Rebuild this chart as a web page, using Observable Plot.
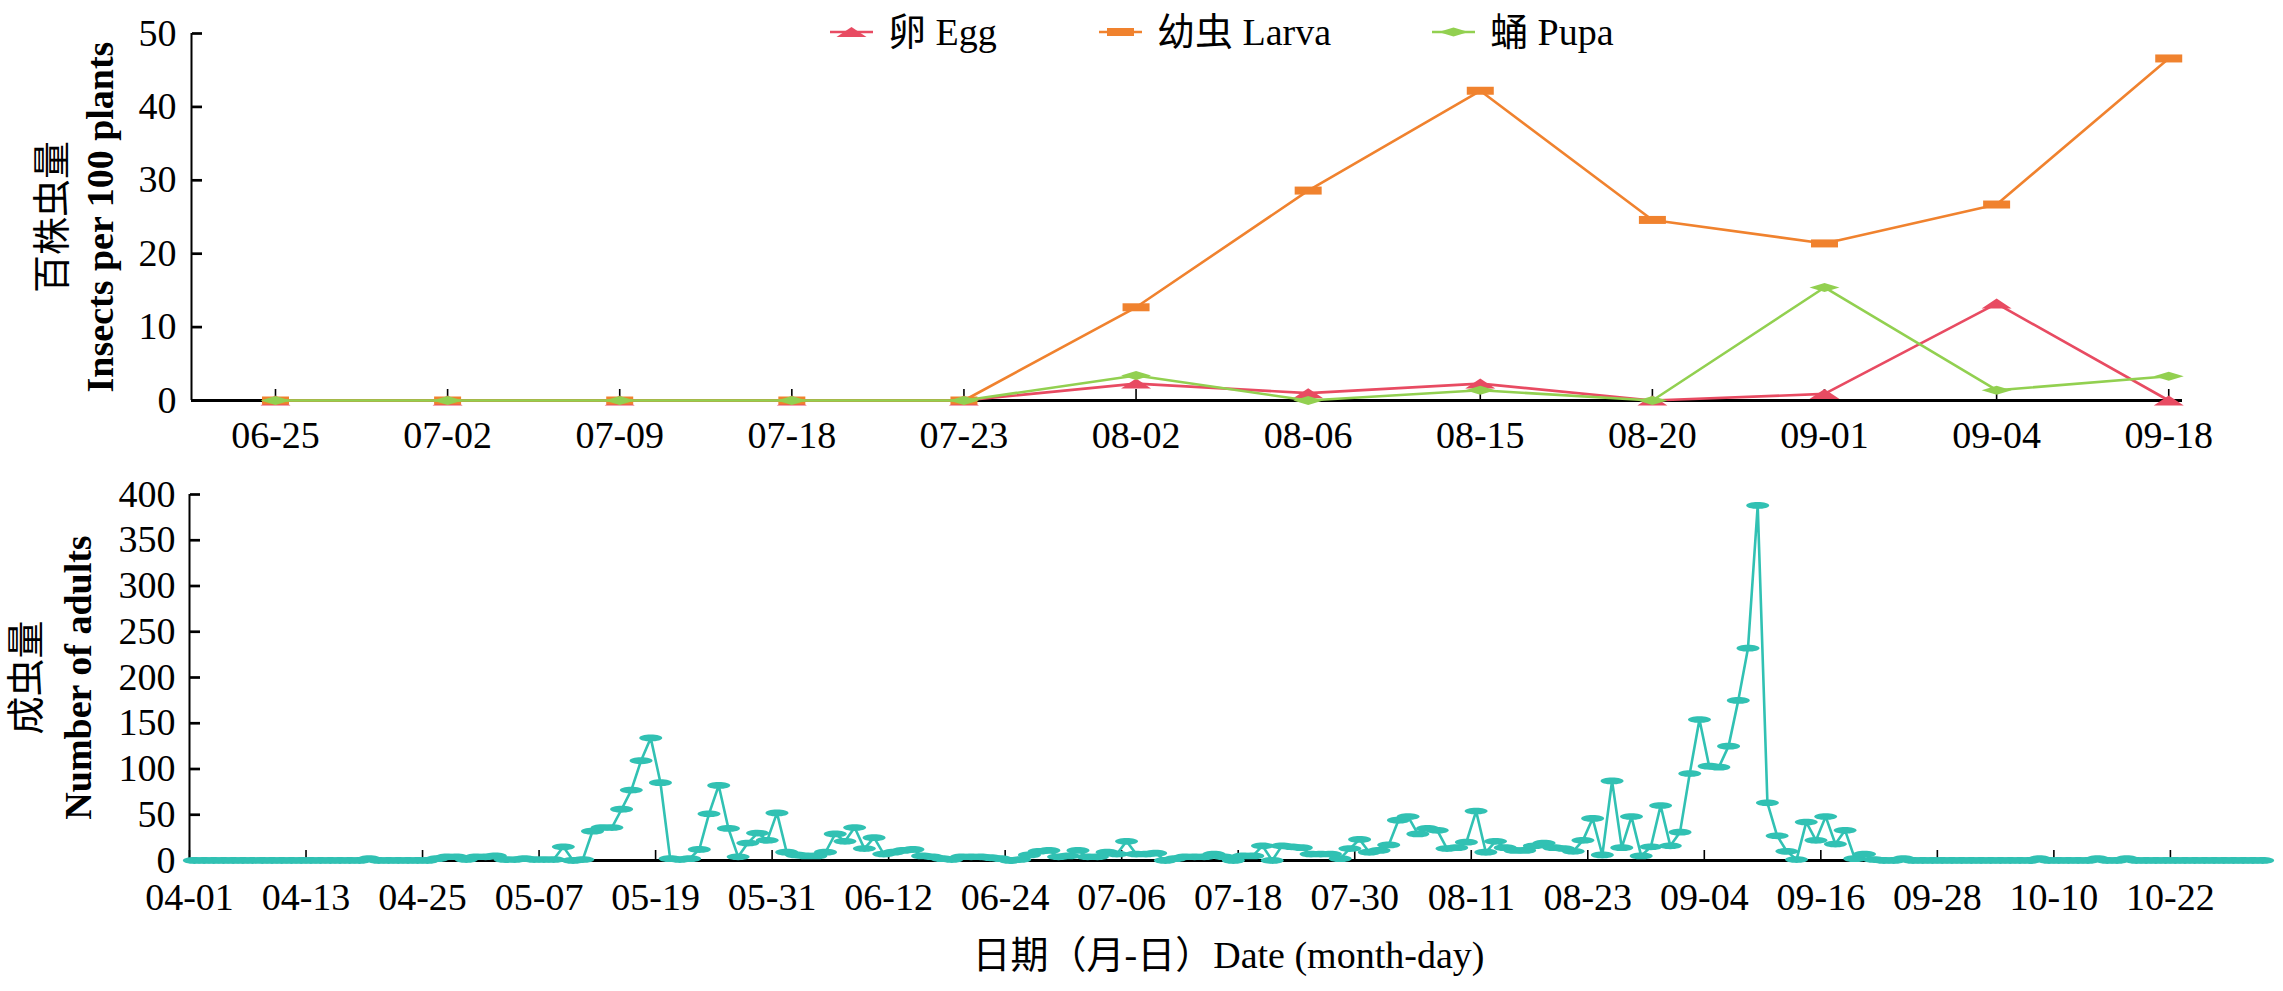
<!DOCTYPE html>
<html>
<head>
<meta charset="utf-8">
<script src="https://cdn.jsdelivr.net/npm/d3@7"></script>
<script src="https://cdn.jsdelivr.net/npm/@observablehq/plot@0.6"></script>
<style>
  body { margin: 0; background: #fff; }
  #wrap { position: relative; width: 2283px; height: 991px; overflow: hidden; background: #fff;
          font-family: "Liberation Serif", "Noto Sans CJK SC", serif; color: #000; }
  #top { position: absolute; left: 0; top: 0; }
  #bottom { position: absolute; left: 0; top: 470px; }
  .lg { position: absolute; top: 12px; height: 40px; display: flex; align-items: center; font-size: 38px; line-height: 40px; white-space: nowrap; }
  .lg svg { margin-right: 15px; }
</style>
</head>
<body>
<div id="wrap">
  <div id="top"></div>
  <div id="bottom"></div>
  <div id="legend"></div>
</div>
<script>
// ---------- data: upper panel (survey dates) ----------
const surveyDates = ["06-25","07-02","07-09","07-18","07-23","08-02","08-06","08-15","08-20","09-01","09-04","09-18"];
const eggValues   = [0, 0, 0, 0, 0, 2.3, 1.0, 2.3, 0, 0.9, 13.2, 0];
const larvaValues = [0, 0, 0, 0, 0, 12.7, 28.6, 42.2, 24.6, 21.4, 26.7, 46.6];
const pupaValues  = [0, 0, 0, 0, 0, 3.4, 0, 1.4, 0, 15.4, 1.4, 3.3];
const stageNames  = ["卵 Egg", "幼虫 Larva", "蛹 Pupa"];
const stageColors = ["#E84B62", "#F0822E", "#92D050"];
const topYTicks   = [0, 10, 20, 30, 40, 50];

// ---------- data: lower panel (daily adults, 04-01 .. 10-31) ----------
const adultTickLabels = ["04-01","04-13","04-25","05-07","05-19","05-31","06-12","06-24","07-06",
                         "07-18","07-30","08-11","08-23","09-04","09-16","09-28","10-10","10-22"];
const adultCounts = [
  0,0,0,0,0,0,0,0,0,0,
  0,0,0,0,0,0,0,0,2,0,
  0,0,0,0,0,2,4,4,1,4,
  4,5,1,1,2,1,1,1,15,0,
  1,32,36,36,56,77,109,134,85,2,
  1,2,12,51,82,35,4,19,30,22,
  52,9,6,5,5,9,29,21,36,13,
  25,7,9,11,12,5,4,2,1,4,
  4,4,3,2,0,1,6,10,11,4,
  5,11,4,4,9,7,21,7,7,8,
  0,2,4,4,4,7,4,0,5,5,
  16,0,16,15,14,7,7,7,2,13,
  23,9,11,17,44,48,29,35,33,13,
  14,20,54,9,21,14,11,11,16,19,
  14,13,10,22,46,6,87,14,48,5,
  15,60,16,31,95,154,103,102,125,175,
  232,388,63,27,10,1,42,22,48,18,
  33,2,7,1,0,0,2,0,0,0,
  0,0,0,0,0,0,0,0,0,0,
  2,0,0,0,0,0,2,0,0,2,
  0,0,0,0,0,0,0,0,0,0,
  0,0,0,0
];
const adultColor = "#31C1B3";
const bottomYTicks = [0, 50, 100, 150, 200, 250, 300, 350, 400];

const topYTitleCN = "百株虫量";
const topYTitleEN = "Insects per 100 plants";
const bottomYTitleCN = "成虫量";
const bottomYTitleEN = "Number of adults";
const xTitle = "日期（月-日）Date (month-day)";

// ---------- helpers ----------
const FONT = '"Liberation Serif", "Noto Sans CJK SC", serif';
function flatSymbol(kind, w, h) {
  const a = w / 2, b = h / 2;
  return {
    draw(ctx) {
      if (kind === "triangle") {
        ctx.moveTo(0, -b); ctx.lineTo(a, b); ctx.lineTo(-a, b); ctx.closePath();
      } else if (kind === "rect") {
        ctx.moveTo(-a, -b); ctx.lineTo(a, -b); ctx.lineTo(a, b); ctx.lineTo(-a, b); ctx.closePath();
      } else if (kind === "diamond") {
        ctx.moveTo(0, -b); ctx.lineTo(a, 0); ctx.lineTo(0, b); ctx.lineTo(-a, 0); ctx.closePath();
      } else {
        const k = 0.5523;
        ctx.moveTo(a, 0);
        ctx.bezierCurveTo(a, k * b, k * a, b, 0, b);
        ctx.bezierCurveTo(-k * a, b, -a, k * b, -a, 0);
        ctx.bezierCurveTo(-a, -k * b, -k * a, -b, 0, -b);
        ctx.bezierCurveTo(k * a, -b, a, -k * b, a, 0);
        ctx.closePath();
      }
    }
  };
}
const stageSymbols = [flatSymbol("triangle", 30, 10), flatSymbol("rect", 27, 8), flatSymbol("diamond", 30, 9)];
const stageValues = [eggValues, larvaValues, pupaValues];

function yTitleMarks(cn, en, dxCN, dxEN) {
  return [
    Plot.text([cn], {text: d => d, frameAnchor: "left", rotate: -90, dx: dxCN,
      textAnchor: "middle", lineAnchor: "middle", fontSize: 38}),
    Plot.text([en], {text: d => d, frameAnchor: "left", rotate: -90, dx: dxEN,
      textAnchor: "middle", lineAnchor: "middle", fontSize: 38, fontWeight: "bold"})
  ];
}

// ---------- upper chart ----------
const topIdx = surveyDates.map((_, i) => i);
const topXDomain = [-0.488, surveyDates.length - 1 + 0.08];
const topMarks = [
  Plot.ruleX([topXDomain[0]], {strokeWidth: 2}),
  Plot.axisY(topYTicks, {tickSize: 0, tickPadding: 15, label: null}),
  Plot.axisY(topYTicks, {anchor: "right", frameAnchor: "left", tickSize: 10, strokeWidth: 2.7, fill: "none", label: null}),
  Plot.axisX(topIdx, {tickSize: 0, tickPadding: 21, tickFormat: i => surveyDates[i], label: null}),
  Plot.axisX(topIdx, {anchor: "top", frameAnchor: "bottom", tickSize: 12, strokeWidth: 1.6, fill: "none", label: null}),
  Plot.ruleY([0], {strokeWidth: 3.2})
];
stageValues.forEach((vals, s) => {
  topMarks.push(Plot.line(vals, {x: (d, i) => i, y: d => d, stroke: stageColors[s], strokeWidth: 2.6}));
  topMarks.push(Plot.dot(vals, {x: (d, i) => i, y: d => d, symbol: stageSymbols[s], fill: stageColors[s], stroke: "none", r: 5}));
});
topMarks.push(...yTitleMarks(topYTitleCN, topYTitleEN, -139, -91));

const topPlot = Plot.plot({
  width: 2283, height: 470,
  marginLeft: 191, marginRight: 101, marginTop: 33, marginBottom: 70,
  style: {fontFamily: FONT, fontSize: "38px", color: "#000", background: "transparent", overflow: "visible"},
  x: {type: "linear", domain: topXDomain},
  y: {type: "linear", domain: [0, 50]},
  marks: topMarks
});
document.getElementById("top").appendChild(topPlot);

// ---------- lower chart ----------
const parseMD = s => Date.UTC(2001, +s.slice(0, 2) - 1, +s.slice(3, 5));
const startMs = parseMD(adultTickLabels[0]);
const tickBoundary = adultTickLabels.map(s => Math.round((parseMD(s) - startMs) / 864e5) - 0.5);
const labelAt = new Map(tickBoundary.map((p, i) => [p, adultTickLabels[i]]));
const bottomXDomain = [-0.5, adultCounts.length - 0.5];

const bottomPlot = Plot.plot({
  width: 2283, height: 521,
  marginLeft: 189, marginRight: 16, marginTop: 24, marginBottom: 131,
  style: {fontFamily: FONT, fontSize: "38px", color: "#000", background: "transparent", overflow: "visible"},
  x: {type: "linear", domain: bottomXDomain},
  y: {type: "linear", domain: [0, 400]},
  marks: [
    Plot.ruleX([bottomXDomain[0]], {strokeWidth: 2}),
    Plot.axisY(bottomYTicks, {tickSize: 0, tickPadding: 14, label: null}),
    Plot.axisY(bottomYTicks, {anchor: "right", frameAnchor: "left", tickSize: 10, strokeWidth: 2.7, fill: "none", label: null}),
    Plot.axisX(tickBoundary, {tickSize: 0, tickPadding: 23, tickFormat: d => labelAt.get(d), label: null}),
    Plot.axisX(tickBoundary, {anchor: "top", frameAnchor: "bottom", tickSize: 11, strokeWidth: 1.6, fill: "none", label: null}),
    Plot.ruleY([0], {strokeWidth: 3.2}),
    Plot.line(adultCounts, {x: (d, i) => i, y: d => d, stroke: adultColor, strokeWidth: 2.6}),
    Plot.dot(adultCounts, {x: (d, i) => i, y: d => d, symbol: flatSymbol("ellipse", 23, 6.8), fill: adultColor, stroke: "none", r: 5}),
    ...yTitleMarks(bottomYTitleCN, bottomYTitleEN, -163, -111),
    Plot.text([xTitle], {text: d => d, frameAnchor: "bottom", dy: 95, textAnchor: "middle", lineAnchor: "middle", fontSize: 38})
  ]
});
document.getElementById("bottom").appendChild(bottomPlot);

// ---------- legend ----------
const legendLeft = [830, 1099, 1432];
const legendShapes = ["triangle", "rect", "diamond"];
const legendSizes = [[30, 10], [27, 8], [30, 9]];
const legend = document.getElementById("legend");
stageNames.forEach((name, s) => {
  const item = document.createElement("div");
  item.className = "lg";
  item.style.left = legendLeft[s] + "px";
  const [w, h] = legendSizes[s];
  const sw = 43, cy = 10, cx = sw / 2;
  let shape;
  if (legendShapes[s] === "triangle") shape = `<polygon points="${cx},${cy - h / 2} ${cx + w / 2},${cy + h / 2} ${cx - w / 2},${cy + h / 2}" fill="${stageColors[s]}"/>`;
  else if (legendShapes[s] === "rect") shape = `<rect x="${cx - w / 2}" y="${cy - h / 2}" width="${w}" height="${h}" fill="${stageColors[s]}"/>`;
  else shape = `<polygon points="${cx},${cy - h / 2} ${cx + w / 2},${cy} ${cx},${cy + h / 2} ${cx - w / 2},${cy}" fill="${stageColors[s]}"/>`;
  item.innerHTML = `<svg width="${sw}" height="20" viewBox="0 0 ${sw} 20"><line x1="0" y1="${cy}" x2="${sw}" y2="${cy}" stroke="${stageColors[s]}" stroke-width="2.6"/>${shape}</svg><span>${name}</span>`;
  legend.appendChild(item);
});
</script>
</body>
</html>
